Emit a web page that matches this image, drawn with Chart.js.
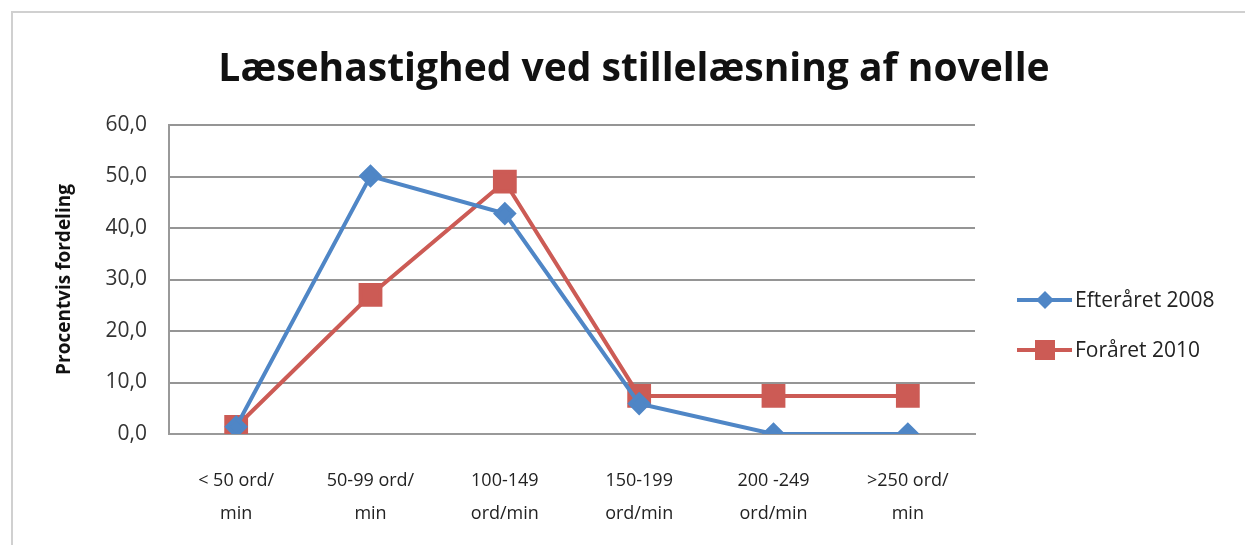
<!DOCTYPE html>
<html>
<head>
<meta charset="utf-8">
<script src="https://cdn.jsdelivr.net/npm/chart.js@4/dist/chart.umd.min.js"></script>
<style>
  body { margin: 0; background: #fff; }
  #wrap { position: absolute; left: 0; top: 0; width: 1245px; height: 545px; }
  #frame { position: absolute; left: 11px; top: 11px; width: 1260px; height: 560px; border: 2px solid #d0d0d0; }
</style>
</head>
<body>
<div id="wrap">
  <div id="frame"></div>
  <canvas id="chart_laesning" width="1245" height="545"></canvas>
</div>
<script>
var title_text = 'Læsehastighed ved stillelæsning af novelle';
var categories = [['< 50 ord/', 'min'], ['50-99 ord/', 'min'], ['100-149', 'ord/min'], ['150-199', 'ord/min'], ['200 -249', 'ord/min'], ['>250 ord/', 'min']];
var efteraaret_2008 = [1.4, 50.1, 42.8, 5.9, 0.0, 0.0];
var foraaret_2010 = [1.4, 27.0, 49.0, 7.4, 7.4, 7.4];
var y_ticks = [0, 10, 20, 30, 40, 50, 60];

var font_family = '"Open Sans", Lato, sans-serif';

// title and legend drawn by hand (title centred on the whole picture, legend with line + marker)
var deco_plugin = {
  id: 'deco',
  afterDraw: function (chart) {
    var ctx = chart.ctx;
    ctx.save();
    ctx.fillStyle = '#111';
    ctx.font = 'bold 39px ' + font_family;
    ctx.textAlign = 'center';
    ctx.textBaseline = 'middle';
    ctx.fillText(title_text, 634, 70);
    ctx.restore();

    var items = chart.data.datasets;
    for (var i = 0; i < items.length; i++) {
      var ds = items[i];
      var y = 300 + i * 50;
      ctx.save();
      ctx.strokeStyle = ds.borderColor;
      ctx.lineWidth = 4;
      ctx.beginPath();
      ctx.moveTo(1017, y);
      ctx.lineTo(1072, y);
      ctx.stroke();
      ctx.fillStyle = ds.backgroundColor;
      if (ds.pointStyle === 'rect') {
        ctx.fillRect(1035, y - 10, 20, 20);
      } else {
        ctx.beginPath();
        ctx.moveTo(1045, y - 9);
        ctx.lineTo(1054, y);
        ctx.lineTo(1045, y + 9);
        ctx.lineTo(1036, y);
        ctx.closePath();
        ctx.fill();
      }
      ctx.fillStyle = '#222';
      ctx.font = '21px ' + font_family;
      ctx.textBaseline = 'middle';
      ctx.fillText(ds.label, 1075, y + 1);
      ctx.restore();
    }
  }
};

var ctx = document.getElementById('chart_laesning').getContext('2d');

var mychart = new Chart(ctx, {type: 'line', data: {
  labels: categories,
  datasets: [{
    label: 'Efteråret 2008',
    data: efteraaret_2008,
    borderColor: '#4F86C6',
    backgroundColor: '#4F86C6',
    borderWidth: 4,
    pointStyle: 'rectRot',
    pointRadius: 9,
    pointHoverRadius: 9,
    tension: 0
  }, {
    label: 'Foråret 2010',
    data: foraaret_2010,
    borderColor: '#CC5B55',
    backgroundColor: '#CC5B55',
    borderWidth: 4,
    pointStyle: 'rect',
    pointRadius: 14,
    pointHoverRadius: 14,
    tension: 0
  }]
}, options: {
  responsive: false,
  animation: false,
  layout: {
    padding: {left: 53, right: 270, top: 125, bottom: 0}
  },
  plugins: {
    title: {display: false},
    legend: {display: false},
    tooltip: {enabled: false}
  },
  scales: {
    x: {
      offset: true,
      afterFit: function (axis) { axis.height = 111; },
      grid: {display: false, drawTicks: false},
      border: {color: '#999', width: 2},
      ticks: {
        color: '#222',
        font: {family: font_family, size: 18, lineHeight: 1.83},
        padding: 30,
        maxRotation: 0,
        autoSkip: false
      }
    },
    y: {
      min: 0,
      max: 60,
      afterFit: function (axis) { axis.width = 116; },
      afterBuildTicks: function (axis) {
        axis.ticks = y_ticks.map(function (v) { return {value: v}; });
      },
      grid: {color: '#959595', lineWidth: 2, drawTicks: false},
      border: {color: '#999', width: 2},
      ticks: {
        color: '#333',
        font: {family: font_family, size: 21},
        padding: 22,
        callback: function (v) { return v.toFixed(1).replace('.', ','); }
      },
      title: {
        display: true,
        text: 'Procentvis fordeling',
        color: '#111',
        font: {family: font_family, size: 19, weight: 'bold'},
        padding: 0
      }
    }
  }
}, plugins: [deco_plugin]
});
</script>
</body>
</html>
